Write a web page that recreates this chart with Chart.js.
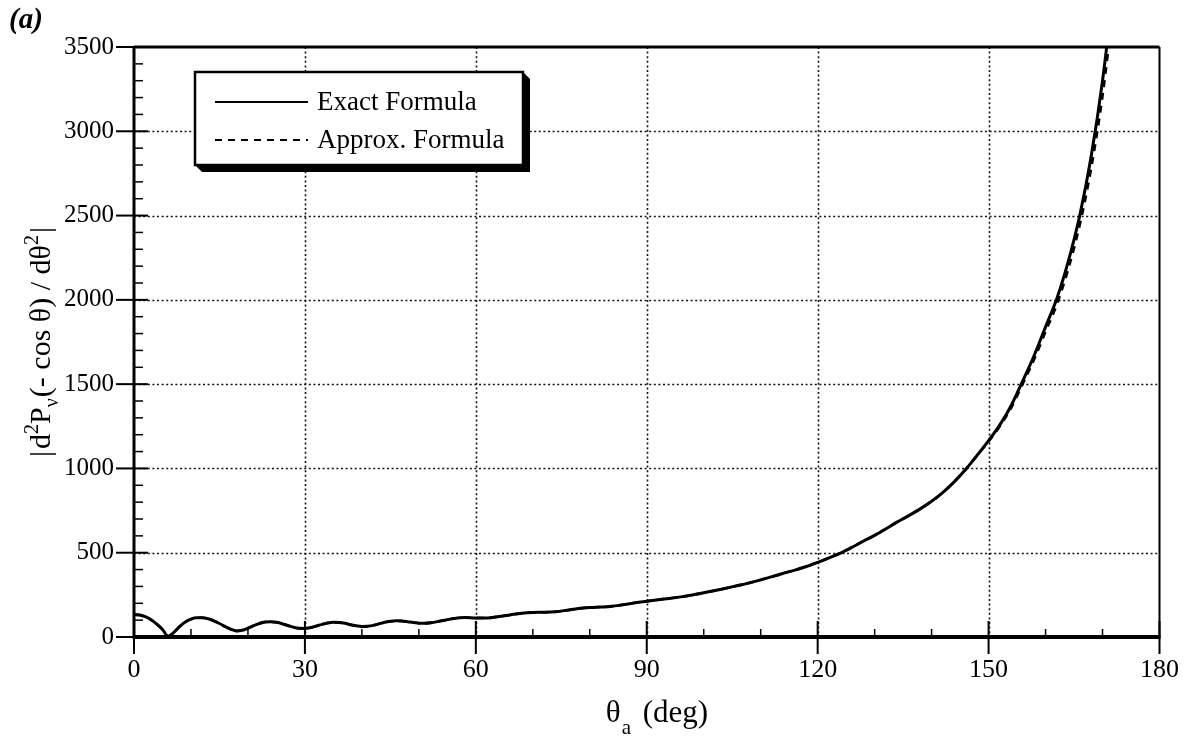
<!DOCTYPE html>
<html>
<head>
<meta charset="utf-8">
<script src="https://cdn.jsdelivr.net/npm/chart.js@4.4.1/dist/chart.umd.min.js"></script>
<style>
  html, body { margin: 0; padding: 0; background: #fff; }
  #wrap { width: 1197px; height: 738px; }
</style>
</head>
<body>
<div id="wrap"><canvas id="plot" width="1197" height="738"></canvas></div>
<script>
// theta_a (deg)
const angles = [
  0, 1, 2, 3, 4, 5, 6, 7, 8, 9, 10, 11, 12, 13, 14, 15, 16, 17, 18, 19, 20,
  21, 22, 23, 24, 25, 26, 27, 28, 29, 30, 31, 32, 33, 34, 35, 36, 37, 38, 39, 40,
  41, 42, 43, 44, 45, 46, 47, 48, 49, 50, 51, 52,
  54, 56, 58, 60, 62, 64, 66, 68, 70, 72, 74, 76, 78, 80, 82, 84, 86, 88, 90,
  92, 94, 96, 98, 100, 102, 104, 106, 108, 110, 112, 114, 116, 118, 120,
  122, 124, 126, 128, 130, 132, 134, 136, 138, 140, 142, 144, 146, 148, 150,
  152, 154, 156, 158, 160, 162, 164, 166, 168, 170, 172
];

// |d2 P_nu(-cos theta) / d theta^2|, exact expression
const exactValues = [
  133, 131, 121, 102, 76, 45, 4, 28, 62, 89, 106, 114, 114, 108, 96, 80, 62, 46, 36, 40, 52,
  67, 80, 89, 91, 87, 79, 68, 58, 52, 51, 56, 65, 75, 83, 87, 86, 81, 73, 67, 63,
  64, 69, 78, 87, 93, 96, 95, 91, 86, 82, 81, 84,
  96, 109, 115, 113, 113, 121, 131, 141, 146, 147, 150, 159, 169, 175, 178, 183, 192, 203, 212,
  221, 229, 238, 249, 262, 276, 290, 305, 321, 339, 358, 378, 397, 418, 443,
  470, 498, 532, 568, 603, 642, 683, 720, 760, 805, 858, 922, 995, 1078, 1165,
  1260, 1375, 1520, 1670, 1840, 2010, 2230, 2500, 2850, 3300, 3870
];

// same quantity, approximate expression
const approxValues = [
  133, 131, 121, 102, 76, 45, 4, 28, 62, 89, 106, 114, 114, 108, 96, 80, 62, 46, 36, 40, 52,
  67, 80, 89, 91, 87, 79, 68, 58, 52, 51, 56, 65, 75, 83, 87, 86, 81, 73, 67, 63,
  64, 69, 78, 87, 93, 96, 95, 91, 86, 82, 81, 84,
  96, 109, 115, 113, 113, 121, 131, 141, 146, 147, 150, 159, 169, 175, 178, 183, 192, 203, 212,
  221, 229, 238, 249, 262, 276, 290, 305, 321, 339, 358, 378, 397, 418, 443,
  470, 498, 532, 568, 603, 642, 683, 720, 760, 805, 858, 922, 995, 1078, 1160,
  1252, 1362, 1503, 1648, 1812, 1975, 2185, 2445, 2780, 3210, 3770
];

const seriesLabels = ["Exact Formula", "Approx. Formula"];
const xTicks = [0, 30, 60, 90, 120, 150, 180];
const yTicks = [0, 500, 1000, 1500, 2000, 2500, 3000, 3500];
const xMinorStep = 10;
const yMinorStep = 100;

const SERIF = '"Liberation Serif", "DejaVu Serif", serif';

function pairUp(xs, ys) {
  return xs.map((v, i) => ({ x: v, y: ys[i] }));
}

// draws a run of text pieces (with super/subscripts) centred on cx
function drawRich(ctx, parts, cx, baseline) {
  let total = 0;
  parts.forEach(p => {
    ctx.font = `${p.size}px ${SERIF}`;
    p.w = ctx.measureText(p.text).width + (p.gap || 0);
    total += p.w;
  });
  let x = cx - total / 2;
  ctx.textAlign = "left";
  ctx.textBaseline = "alphabetic";
  parts.forEach(p => {
    ctx.font = `${p.size}px ${SERIF}`;
    ctx.fillText(p.text, x, baseline + (p.dy || 0));
    x += p.w;
  });
}

function seg(ctx, x1, y1, x2, y2) {
  ctx.beginPath();
  ctx.moveTo(x1, y1);
  ctx.lineTo(x2, y2);
  ctx.stroke();
}

const plotDecor = {
  id: "plotDecor",
  beforeDatasetsDraw(chart) {
    const { ctx, chartArea: a, scales: { x, y } } = chart;
    ctx.save();
    ctx.strokeStyle = "#111";
    ctx.lineWidth = 1.6;
    ctx.setLineDash([2, 2.6]);
    xTicks.slice(1, -1).forEach(v => {
      const px = Math.round(x.getPixelForValue(v)) + 0.5;
      seg(ctx, px, a.top, px, a.bottom);
    });
    yTicks.slice(1, -1).forEach(v => {
      const py = Math.round(y.getPixelForValue(v)) + 0.5;
      seg(ctx, a.left, py, a.right, py);
    });
    ctx.restore();
  },
  afterDatasetsDraw(chart) {
    const { ctx, chartArea: a, scales: { x, y } } = chart;
    ctx.save();
    ctx.strokeStyle = "#000";
    ctx.fillStyle = "#000";
    ctx.setLineDash([]);

    // minor ticks, inside
    ctx.lineWidth = 1.5;
    for (let v = x.min + xMinorStep; v < x.max; v += xMinorStep) {
      if (xTicks.includes(v)) continue;
      const px = x.getPixelForValue(v);
      seg(ctx, px, a.bottom, px, a.bottom - 8);
    }
    for (let v = y.min + yMinorStep; v < y.max; v += yMinorStep) {
      if (yTicks.includes(v)) continue;
      const py = y.getPixelForValue(v);
      seg(ctx, a.left, py, a.left + 9, py);
    }

    // major ticks, both sides of the axes
    ctx.lineWidth = 2;
    xTicks.forEach(v => {
      const px = x.getPixelForValue(v);
      seg(ctx, px, a.bottom + 17, px, a.bottom - 16);
    });
    yTicks.forEach(v => {
      const py = y.getPixelForValue(v);
      seg(ctx, a.left - 18, py, a.left + 14, py);
    });

    // frame
    ctx.lineWidth = 3;
    seg(ctx, a.left, a.top, a.right, a.top);
    seg(ctx, a.left, a.top - 1, a.left, a.bottom + 2);
    ctx.lineWidth = 2;
    seg(ctx, a.right, a.top, a.right, a.bottom);
    ctx.lineWidth = 4;
    seg(ctx, a.left - 1, a.bottom, a.right + 1, a.bottom);

    // legend box with drop shadow
    const bx = 195, by = 72, bw = 328, bh = 93, sh = 7;
    ctx.beginPath();
    ctx.moveTo(bx, by + bh);
    ctx.lineTo(bx + sh, by + bh + sh);
    ctx.lineTo(bx + bw + sh, by + bh + sh);
    ctx.lineTo(bx + bw + sh, by + sh);
    ctx.lineTo(bx + bw, by);
    ctx.closePath();
    ctx.fill();
    ctx.fillStyle = "#fff";
    ctx.fillRect(bx, by, bw, bh);
    ctx.lineWidth = 2.5;
    ctx.strokeRect(bx, by, bw, bh);

    ctx.fillStyle = "#000";
    ctx.font = `27px ${SERIF}`;
    ctx.textAlign = "left";
    ctx.textBaseline = "alphabetic";
    chart.data.datasets.forEach((ds, i) => {
      const ly = 102 + i * 38;
      ctx.lineWidth = 2.2;
      ctx.setLineDash(ds.borderDash || []);
      seg(ctx, 215, ly, 308, ly);
      ctx.setLineDash([]);
      ctx.fillText(ds.label, 317, ly + 8);
    });

    // panel tag
    ctx.font = `bold italic 29px ${SERIF}`;
    ctx.fillText("(a)", 9, 28);

    // x axis title
    drawRich(ctx, [
      { text: "θ", size: 31, gap: 1 },
      { text: "a", size: 21, dy: 12, gap: 4 },
      { text: " (deg)", size: 31 }
    ], 657, 722);

    // y axis title, rotated
    ctx.translate(50, (a.top + a.bottom) / 2);
    ctx.rotate(-Math.PI / 2);
    drawRich(ctx, [
      { text: "|", size: 30, gap: 2 },
      { text: "d", size: 30 },
      { text: "2", size: 20, dy: -12 },
      { text: "P", size: 30 },
      { text: "ν", size: 20, dy: 8, gap: 1 },
      { text: "(- cos θ) / dθ", size: 30 },
      { text: "2", size: 20, dy: -12, gap: 2 },
      { text: "|", size: 30 }
    ], 0, 0);

    ctx.restore();
  }
};

const plainNumber = v => String(v);

new Chart(document.getElementById("plot"), {
  type: "line",
  data: {
    datasets: [
      {
        label: seriesLabels[0],
        data: pairUp(angles, exactValues),
        borderColor: "#000",
        borderWidth: 3,
        pointRadius: 0,
        cubicInterpolationMode: "monotone",
        order: 2
      },
      {
        label: seriesLabels[1],
        data: pairUp(angles, approxValues),
        borderColor: "#000",
        borderWidth: 2.6,
        borderDash: [7, 6],
        pointRadius: 0,
        cubicInterpolationMode: "monotone",
        order: 1
      }
    ]
  },
  options: {
    responsive: false,
    animation: false,
    devicePixelRatio: 1,
    layout: { padding: { top: 47, right: 26, left: 0, bottom: 0 } },
    plugins: {
      legend: { display: false },
      tooltip: { enabled: false }
    },
    scales: {
      x: {
        type: "linear",
        min: 0,
        max: 180,
        grid: { display: false, drawTicks: false },
        border: { display: false },
        ticks: {
          font: { family: SERIF, size: 26 }, color: "#000", padding: 18,
          maxRotation: 0, autoSkip: false, callback: plainNumber
        },
        afterBuildTicks: s => { s.ticks = xTicks.map(v => ({ value: v })); },
        afterFit: s => { s.height = 101; }
      },
      y: {
        min: 0,
        max: 3500,
        grid: { display: false, drawTicks: false },
        border: { display: false },
        ticks: {
          font: { family: SERIF, size: 25 }, color: "#000", padding: 20,
          autoSkip: false, callback: plainNumber
        },
        afterBuildTicks: s => { s.ticks = yTicks.map(v => ({ value: v })); },
        afterFit: s => { s.width = 134; }
      }
    }
  },
  plugins: [plotDecor]
});
</script>
</body>
</html>
